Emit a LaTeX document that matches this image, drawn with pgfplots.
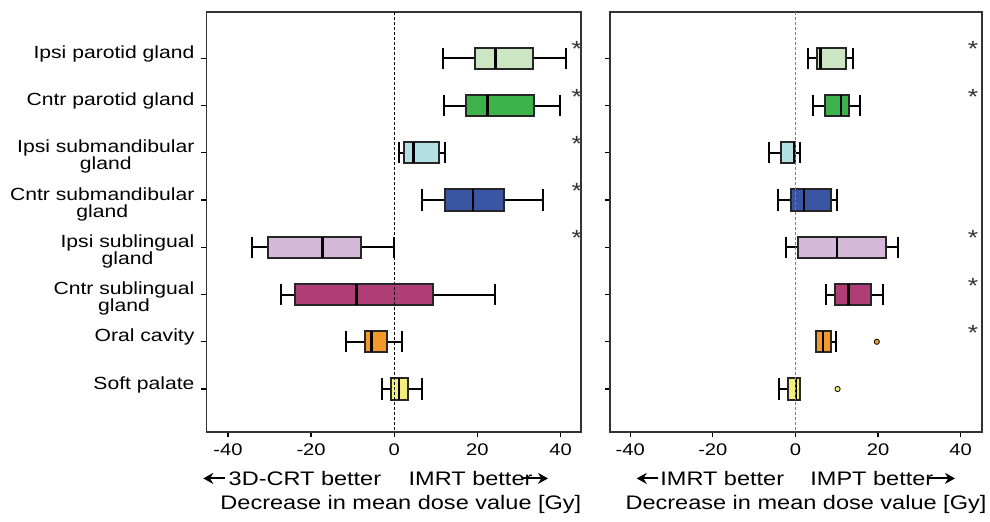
\documentclass[border=0pt]{standalone}
\usepackage{fontspec}
\setmainfont{Liberation Sans}[FakeStretch=1.2]
\usepackage{pgfplots}
\pgfplotsset{compat=1.18}
\usepgfplotslibrary{statistics}
\usetikzlibrary{arrows.meta}

\definecolor{cA}{RGB}{204,230,196}
\definecolor{cB}{RGB}{59,178,74}
\definecolor{cC}{RGB}{178,224,228}
\definecolor{cD}{RGB}{57,85,164}
\definecolor{cE}{RGB}{214,184,216}
\definecolor{cF}{RGB}{176,62,118}
\definecolor{cG}{RGB}{243,152,41}
\definecolor{cH}{RGB}{242,238,124}

\newcommand\twol[2]{\vtop{\baselineskip=8.5pt\lineskiplimit=-20pt\halign{\hfil##\hfil\cr#1\cr#2\cr}}}

\tikzset{
  star/.style={anchor=base, inner sep=0, text=black!80, font=\fontsize{11}{12}\selectfont},
  arr/.style={line width=1pt, -{Stealth[length=5pt,width=5.5pt]}},
}

\pgfplotsset{
  panel/.style={
    scale only axis, height=210pt,
    y dir=reverse, ymin=0.02, ymax=8.91,
    ytick={1,...,8},
    xtick={-40,-20,0,20,40}, xticklabels={-40,-20,0,20,40},
    tick align=outside, xtick pos=bottom, ytick pos=left,
    major tick length=2.5pt,
    tick style={black, line width=0.6pt},
    axis line style={black!80, line width=0.8pt},
    xticklabel style={font=\fontsize{8.4}{10}\selectfont},
    yticklabel style={anchor=base east, font=\fontsize{8.8}{10}\selectfont},
    clip=false,
    boxplot/draw direction=x,
    boxplot/box extend=0.45,
    boxplot/whisker extend=0.45,
  },
  bx/.style n args={7}{
    boxplot prepared={draw position=#1, lower whisker=#2, lower quartile=#3,
      median=#4, upper quartile=#5, upper whisker=#6},
    draw=black, line width=1pt,
    boxplot/every box/.style={draw=black!85, fill=#7},
    boxplot/every median/.style={draw=black, line width=1.2pt},
  },
  outl/.style={only marks, mark=*, mark size=1.3pt,
    mark options={fill=#1, draw=black, line width=0.4pt}},
}

\begin{document}
\begin{tikzpicture}
\begin{axis}[panel, at={(0pt,0pt)}, anchor=south west,
  width=187.25pt, xmin=-45.15, xmax=44.9,
  yticklabels={Ipsi parotid gland, Cntr parotid gland,
    {\twol{Ipsi submandibular}{gland}}, {\twol{Cntr submandibular}{gland}},
    {\twol{Ipsi sublingual}{gland}}, {\twol{Cntr sublingual}{gland}},
    Oral cavity, Soft palate}]
\addplot[bx={1}{11.8}{19.4}{24.3}{33.4}{41.3}{cA}] coordinates {};
\addplot[bx={2}{12.0}{17.2}{22.4}{33.6}{39.8}{cB}] coordinates {};
\addplot[bx={3}{1.1}{2.4}{4.6}{10.8}{12.2}{cC}] coordinates {};
\addplot[bx={4}{6.6}{12.2}{18.9}{26.5}{35.8}{cD}] coordinates {};
\addplot[bx={5}{-34.2}{-30.3}{-17.3}{-8.1}{0.0}{cE}] coordinates {};
\addplot[bx={6}{-27.3}{-23.8}{-9.1}{9.3}{24.2}{cF}] coordinates {};
\addplot[bx={7}{-11.6}{-7.1}{-5.5}{-1.7}{1.9}{cG}] coordinates {};
\addplot[bx={8}{-2.9}{-0.9}{1.1}{3.4}{6.7}{cH}] coordinates {};
\addplot[black, line width=0.5pt, dash pattern=on 1.5pt off 1pt] coordinates {(0,0.02) (0,8.91)};
\node[star] at (axis cs:43.9,0.97) {*};
\node[star] at (axis cs:43.9,1.97) {*};
\node[star] at (axis cs:43.9,2.97) {*};
\node[star] at (axis cs:43.9,3.97) {*};
\node[star] at (axis cs:43.9,4.97) {*};
\end{axis}

\begin{axis}[panel, at={(201.75pt,0pt)}, anchor=south west,
  width=185.85pt, xmin=-44.9, xmax=45.1, yticklabels={}]
\addplot[bx={1}{3.0}{5.1}{6.1}{12.3}{14.0}{cA}] coordinates {};
\addplot[bx={2}{4.3}{7.1}{11.1}{13.0}{15.7}{cB}] coordinates {};
\addplot[bx={3}{-6.3}{-3.5}{-0.3}{0.0}{1.2}{cC}] coordinates {};
\addplot[bx={4}{-4.3}{-1.1}{2.0}{8.6}{10.1}{cD}] coordinates {};
\addplot[bx={5}{-2.3}{0.6}{10.1}{22.0}{24.8}{cE}] coordinates {};
\addplot[bx={6}{7.4}{9.5}{12.8}{18.3}{21.3}{cF}] coordinates {};
\addplot[bx={7}{4.9}{5.0}{6.7}{8.6}{9.7}{cG}] coordinates {};
\addplot[bx={8}{-4.0}{-1.9}{0.2}{1.1}{1.1}{cH}] coordinates {};
\addplot[outl=cG] coordinates {(19.7,7)};
\addplot[outl=cH] coordinates {(10.2,8)};
\addplot[black!50, line width=0.6pt, dash pattern=on 1.5pt off 1pt] coordinates {(0,0.02) (0,8.91)};
\node[star] at (axis cs:43.0,0.97) {*};
\node[star] at (axis cs:43.0,1.97) {*};
\node[star] at (axis cs:43.0,4.97) {*};
\node[star] at (axis cs:43.0,5.97) {*};
\node[star] at (axis cs:43.0,6.97) {*};
\end{axis}

\begin{scope}[font=\fontsize{9.8}{11}\selectfont]
\draw[arr] (9.25pt,-23.2pt) -- (-1.6pt,-23.2pt);
\node[anchor=base west, inner sep=0] at (10.9pt,-26.7pt) {3D-CRT better};
\node[anchor=base west, inner sep=0] at (100.9pt,-26.7pt) {IMRT better};
\draw[arr] (157.5pt,-23.2pt) -- (170.75pt,-23.2pt);
\node[anchor=base, inner sep=0] at (97.2pt,-38.6pt) {Decrease in mean dose value [Gy]};
\draw[arr] (225.9pt,-23.2pt) -- (215.1pt,-23.2pt);
\node[anchor=base west, inner sep=0] at (226.75pt,-26.7pt) {IMRT better};
\node[anchor=base west, inner sep=0] at (301.75pt,-26.7pt) {IMPT better};
\draw[arr] (360pt,-23.2pt) -- (374.25pt,-23.2pt);
\node[anchor=base, inner sep=0] at (299.75pt,-38.6pt) {Decrease in mean dose value [Gy]};
\end{scope}
\pgfresetboundingbox
\path[use as bounding box] (-103.25pt,-44.5pt) rectangle (391.75pt,216pt);
\end{tikzpicture}
\end{document}
